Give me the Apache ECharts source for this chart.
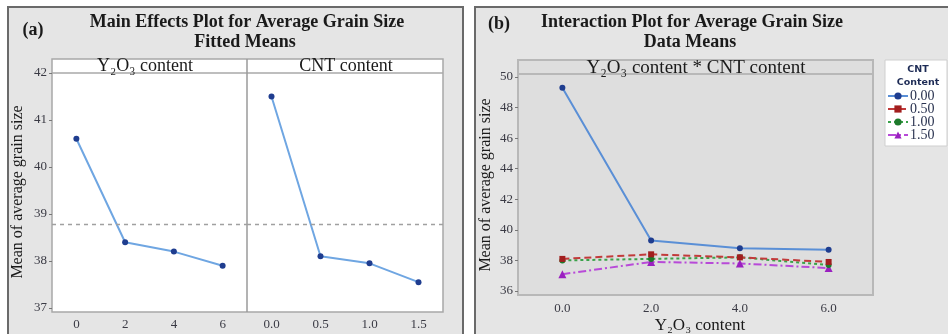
<!DOCTYPE html>
<html>
<head>
<meta charset="utf-8">
<script src="https://cdn.jsdelivr.net/npm/echarts@6/dist/echarts.min.js"></script>
<style>html,body{margin:0;padding:0;background:#fff;}#c{width:948px;height:334px;}</style>
</head>
<body>
<div id="c"></div>
<script>
// ---- data ----
const mainY2O3Cats = ['0', '2', '4', '6'];
const mainY2O3Means = [40.6, 38.4, 38.2, 37.9];
const mainCntCats = ['0.0', '0.5', '1.0', '1.5'];
const mainCntMeans = [41.5, 38.1, 37.95, 37.55];
const overallMean = 38.78;
const interCats = ['0.0', '2.0', '4.0', '6.0'];
const cntLevels = ['0.00', '0.50', '1.00', '1.50'];
const cnt000 = [49.3, 39.3, 38.8, 38.7];
const cnt050 = [38.1, 38.4, 38.2, 37.9];
const cnt100 = [38.0, 38.1, 38.2, 37.7];
const cnt150 = [37.1, 37.9, 37.8, 37.5];

const SERIF = 'Liberation Serif';
const chart = echarts.init(document.getElementById('c'));

function txt(x, y, text, size, bold, extra) {
  return Object.assign({
    type: 'text', x: x, y: y, z: 10,
    style: { text: text, fontFamily: SERIF, fontSize: size, fontWeight: bold ? 'bold' : 'normal',
             fill: '#1a1a1a', align: 'center', verticalAlign: 'middle' }
  }, extra || {});
}

const interSeries = [cnt000, cnt050, cnt100, cnt150];
const interColors = ['#5a8fd6', '#c23a3a', '#3aa24a', '#b84ad8'];
const markerColors = ['#1f3d8f', '#a11e1e', '#1e7a2c', '#9a20c0'];
const dashTypes = ['solid', [7, 4], [3, 3], [8, 3, 2, 3]];
const symbols = ['circle', 'rect', 'circle', 'triangle'];

const axisLabelStyle = { fontFamily: SERIF, fontSize: 13, color: '#3a3a44' };

const option = {
  animation: false,
  backgroundColor: '#ffffff',
  graphic: [
    { type: 'rect', z: -20, shape: { x: 8, y: 7, width: 455, height: 340 },
      style: { fill: '#e5e5e5', stroke: '#6a6a6a', lineWidth: 2 } },
    { type: 'rect', z: -20, shape: { x: 475, y: 7, width: 480, height: 340 },
      style: { fill: '#e5e5e5', stroke: '#6a6a6a', lineWidth: 2 } },
    { type: 'rect', z: -15, shape: { x: 52, y: 59, width: 391, height: 253 },
      style: { fill: '#ffffff', stroke: '#a8a8a8', lineWidth: 1.5 } },
    { type: 'line', z: -14, shape: { x1: 52, y1: 73, x2: 443, y2: 73 },
      style: { stroke: '#a8a8a8', lineWidth: 1.5 } },
    { type: 'line', z: -14, shape: { x1: 247, y1: 59, x2: 247, y2: 312 },
      style: { stroke: '#9a9a9a', lineWidth: 1.5 } },
    { type: 'rect', z: -15, shape: { x: 518, y: 60, width: 355, height: 235 },
      style: { fill: '#dedede', stroke: '#b8b8b8', lineWidth: 2 } },
    { type: 'line', z: -14, shape: { x1: 518, y1: 74, x2: 873, y2: 74 },
      style: { stroke: '#b8b8b8', lineWidth: 2 } },
    { type: 'rect', z: -15, shape: { x: 885, y: 60, width: 62, height: 86 },
      style: { fill: '#ffffff', stroke: '#cfcfcf', lineWidth: 1 } },
    txt(33, 30, '(a)', 18, true),
    txt(247, 22, 'Main Effects Plot for Average Grain Size', 18, true),
    txt(245, 42, 'Fitted Means', 18, true),
    txt(499, 24, '(b)', 18, true),
    txt(692, 22, 'Interaction Plot for Average Grain Size', 18, true),
    txt(690, 42, 'Data Means', 18, true),
    txt(145, 66, 'Y\u2082O\u2083 content', 18, false),
    txt(346, 66, 'CNT content', 18, false),
    txt(696, 68, 'Y\u2082O\u2083 content * CNT content', 19, false),
    txt(700, 326, 'Y\u2082O\u2083 content', 17, false),
    txt(18, 192, 'Mean of average grain size', 16, false, { rotation: Math.PI / 2 }),
    txt(486, 185, 'Mean of average grain size', 16, false, { rotation: Math.PI / 2 }),
    { type: 'text', x: 918, y: 70, z: 10, style: { text: 'CNT', fontFamily: 'DejaVu Sans', fontSize: 9.5, fontWeight: 'bold', fill: '#1d2b55', align: 'center', verticalAlign: 'middle' } },
    { type: 'text', x: 918, y: 83, z: 10, style: { text: 'Content', fontFamily: 'DejaVu Sans', fontSize: 9.5, fontWeight: 'bold', fill: '#1d2b55', align: 'center', verticalAlign: 'middle' } }
  ],
  grid: [
    { left: 52, top: 73, width: 195, height: 235 },
    { left: 247, top: 73, width: 196, height: 235 },
    { left: 518, top: 77, width: 355, height: 214 }
  ],
  xAxis: [
    { type: 'category', gridIndex: 0, data: mainY2O3Cats, offset: 4,
      axisLine: { show: false }, axisTick: { show: false },
      axisLabel: Object.assign({ margin: 6 }, axisLabelStyle) },
    { type: 'category', gridIndex: 1, data: mainCntCats, offset: 4,
      axisLine: { show: false }, axisTick: { show: false },
      axisLabel: Object.assign({ margin: 6 }, axisLabelStyle) },
    { type: 'category', gridIndex: 2, data: interCats, offset: 4,
      axisLine: { show: false }, axisTick: { show: false },
      axisLabel: Object.assign({ margin: 7 }, axisLabelStyle) }
  ],
  yAxis: [
    { type: 'value', gridIndex: 0, min: 37, max: 42, interval: 1,
      axisLine: { show: false }, splitLine: { show: false },
      axisTick: { show: true, length: 3, lineStyle: { color: '#777' } },
      axisLabel: Object.assign({ margin: 5 }, axisLabelStyle) },
    { type: 'value', gridIndex: 1, min: 37, max: 42, interval: 1,
      axisLine: { show: false }, splitLine: { show: false },
      axisTick: { show: false }, axisLabel: { show: false } },
    { type: 'value', gridIndex: 2, min: 36, max: 50, interval: 2,
      axisLine: { show: false }, splitLine: { show: false },
      axisTick: { show: true, length: 3, lineStyle: { color: '#777' } },
      axisLabel: Object.assign({ margin: 5 }, axisLabelStyle) }
  ],
  legend: {
    data: cntLevels, orient: 'vertical', left: 887, top: 89,
    itemWidth: 20, itemHeight: 9, itemGap: -1, padding: 0,
    textStyle: { fontFamily: SERIF, fontSize: 14, lineHeight: 12, color: '#2a3350', padding: [0, 0, 0, -3] }
  },
  series: [
    { type: 'line', xAxisIndex: 0, yAxisIndex: 0, data: mainY2O3Means,
      symbol: 'circle', symbolSize: 6,
      lineStyle: { color: '#6fa6e2', width: 2 }, itemStyle: { color: '#1f3d8f' },
      markLine: { silent: true, symbol: 'none', label: { show: false },
        lineStyle: { color: '#a0a0a0', type: [4, 4], width: 1.3 }, data: [{ yAxis: overallMean }] } },
    { type: 'line', xAxisIndex: 1, yAxisIndex: 1, data: mainCntMeans,
      symbol: 'circle', symbolSize: 6,
      lineStyle: { color: '#6fa6e2', width: 2 }, itemStyle: { color: '#1f3d8f' },
      markLine: { silent: true, symbol: 'none', label: { show: false },
        lineStyle: { color: '#a0a0a0', type: [4, 4], width: 1.3 }, data: [{ yAxis: overallMean }] } }
  ].concat(interSeries.map(function (d, i) {
    return {
      type: 'line', name: cntLevels[i], xAxisIndex: 2, yAxisIndex: 2, data: d,
      symbol: symbols[i], symbolSize: i === 3 ? 8 : 6, z: 10 - i,
      lineStyle: { color: interColors[i], width: 2, type: dashTypes[i] },
      itemStyle: { color: markerColors[i] }
    };
  }))
};
chart.setOption(option);
</script>
</body>
</html>
